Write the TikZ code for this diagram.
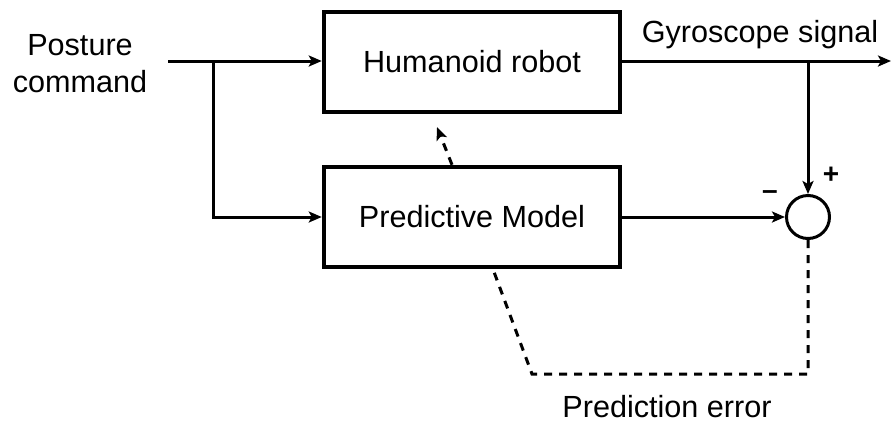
\documentclass[tikz,border=0pt]{standalone}
\usepackage{fontspec}
\setmainfont{Liberation Sans}
\usetikzlibrary{arrows.meta,calc}
\begin{document}
\begin{tikzpicture}[x=1pt,y=-1pt,
  lbl/.style={font=\fontsize{30.6}{36}\selectfont, inner sep=0pt},
  sgn/.style={font=\fontsize{28}{30}\selectfont\bfseries, inner sep=0pt},
  blk/.style={draw, line width=4.5pt, minimum width=296pt, minimum height=100pt, inner sep=0pt, font=\fontsize{30.6}{36}\selectfont},
  tip/.style={-{Stealth[length=13pt,width=11pt,inset=3pt]}},
  conn/.style={line width=3pt, tip},
  dsh/.style={line width=3pt, dash pattern=on 8pt off 7pt}]
\useasboundingbox (0,0) rectangle (892,424);
% blocks
\node[blk] (hr) at (472,62) {Humanoid robot};
\node[blk] (pm) at (472,217) {Predictive Model};
\node[draw, circle, line width=3pt, minimum size=43pt, inner sep=0pt] (sum) at (808,217) {};
% coordinates
\coordinate (in) at (168,61);
\coordinate (split) at (213,61);
\coordinate (out) at (891,61);
\coordinate (tap) at (808,61);
\coordinate (fb) at (437,127);
\coordinate (c1) at (808,374);
\coordinate (c2) at (532,374);
% labels
\node[lbl, anchor=base] (l1) at (80,55) {Posture};
\node[lbl, anchor=base] (l2) at (80,92) {command};
\node[lbl, anchor=base] (gy) at (760,42) {Gyroscope signal};
\node[lbl, anchor=base] (pe) at (667,417) {Prediction error};
\node[sgn] (minus) at (770,195) {\textendash};
\node[sgn] (plus) at (831,175) {+};
% connectors
\draw[conn] (in) -- (in -| hr.west);
\draw[conn] (split) |- (pm.west);
\draw[conn] (out -| hr.east) -- (out);
\draw[conn] (tap) -- (sum.north);
\draw[conn] (pm.east) -- (sum.west);
\draw[dsh, tip] ([xshift=-20pt]pm.north) -- (fb);
\draw[dsh] (sum.south) -- (c1) -- (c2) -- ([xshift=21pt]pm.south);
\end{tikzpicture}
\end{document}
